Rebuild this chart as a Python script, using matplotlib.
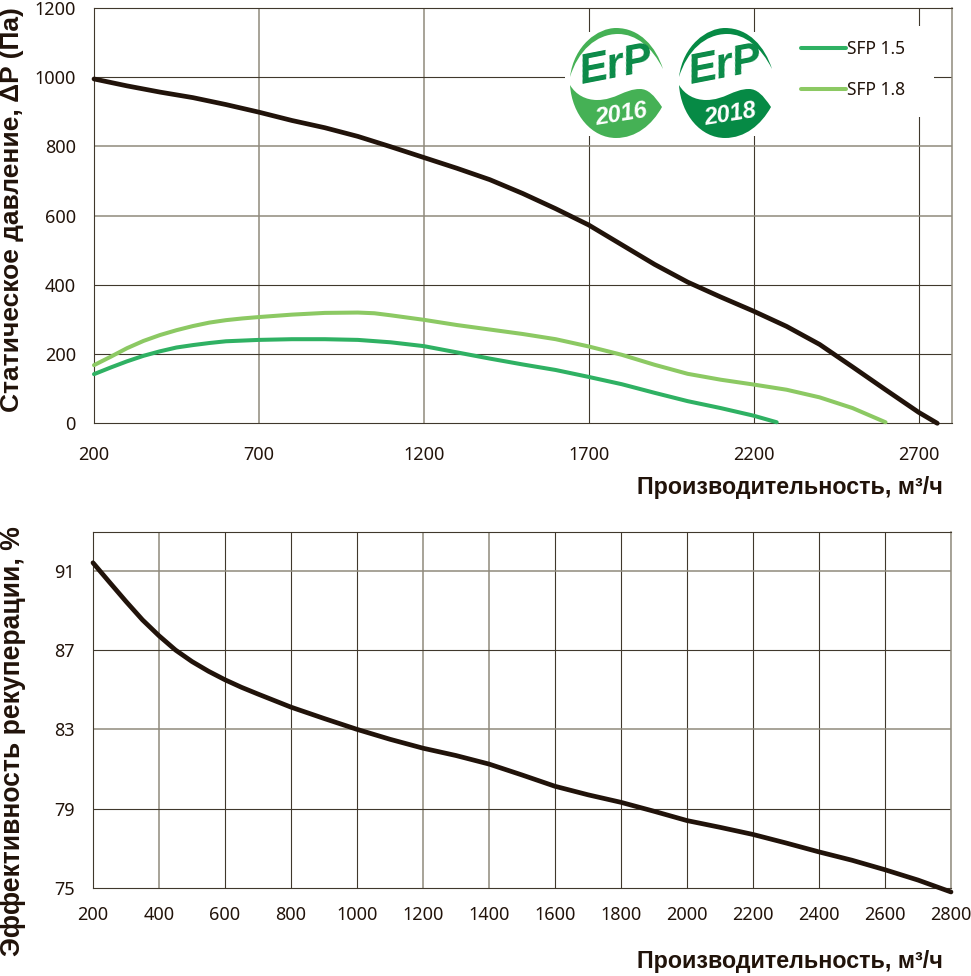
import matplotlib.pyplot as plt
from matplotlib.path import Path
from matplotlib.patches import PathPatch, Rectangle

W, H = 971, 976

# Верхний график: давление
flow_x = [200, 300, 400, 500, 600, 700, 800, 900, 1000, 1100, 1200, 1300, 1400, 1500, 1600,
          1700, 1800, 1900, 2000, 2100, 2200, 2300, 2400, 2500, 2600, 2700, 2757]
pressure = [995, 975, 957, 941, 921, 899, 875, 854, 829, 799, 768, 737, 704, 664, 620,
            573, 516, 459, 408, 365, 324, 280, 228, 163, 97, 32, 0]

sfp15_x = [200, 250, 300, 350, 400, 450, 500, 550, 600, 700, 800, 900, 1000, 1100, 1200, 1300, 1400,
           1500, 1600, 1700, 1800, 1900, 2000, 2100, 2200, 2270]
sfp15 = [142, 161, 179, 195, 208, 219, 226, 232, 237, 241, 243, 243, 241, 234, 223, 205, 187,
         170, 154, 134, 113, 88, 64, 44, 22, 3]

sfp18_x = [200, 250, 300, 350, 400, 450, 500, 550, 600, 650, 700, 800, 900, 1000, 1050, 1100, 1200, 1300, 1400,
           1500, 1600, 1700, 1800, 1900, 2000, 2100, 2200, 2300, 2400, 2500, 2600]
sfp18 = [168, 192, 217, 238, 255, 269, 281, 291, 298, 303, 307, 314, 319, 320, 318, 312, 299, 284, 271,
         258, 243, 222, 198, 169, 143, 126, 112, 97, 75, 44, 3]

# Нижний график: рекуперация
eff_x = [200, 250, 300, 350, 400, 450, 500, 550, 600, 650, 700, 800, 900, 1000, 1100, 1200, 1300, 1400, 1500, 1600,
         1700, 1800, 1900, 2000, 2100, 2200, 2300, 2400, 2500, 2600, 2700, 2800]
eff = [91.4, 90.42, 89.45, 88.52, 87.72, 87.0, 86.42, 85.93, 85.5, 85.12, 84.78, 84.12, 83.55, 83.0, 82.5, 82.05, 81.68, 81.25, 80.7, 80.13,
       79.7, 79.32, 78.87, 78.4, 78.06, 77.7, 77.27, 76.82, 76.4, 75.92, 75.4, 74.8]

top_xticks = [200, 700, 1200, 1700, 2200, 2700]
top_yticks = [0, 200, 400, 600, 800, 1000, 1200]
bot_xticks = [200, 400, 600, 800, 1000, 1200, 1400, 1600, 1800, 2000, 2200, 2400, 2600, 2800]
bot_yticks = [75, 79, 83, 87, 91]

top_ylabel = 'Статическое давление, ΔP (Па)'
bot_ylabel = 'Эффективность рекуперации, %'
xlabel = 'Производительность, м³/ч'

BLACK = '#21130a'
GREEN15 = '#2fb163'
GREEN18 = '#8cc963'
GRID_DARK = '#40382c'
GRID_GRAY = '#8f8a7c'
TICK_FONT = 'Noto Sans'
BOLD_FONT = 'Liberation Sans'


def px_axes(fig, left, top, right, bottom):
    return fig.add_axes([left / W, 1 - bottom / H, (right - left) / W, (bottom - top) / H])


def style(ax, xticks, yticks, gray_x, gray_y, pad):
    ax.set_xticks(xticks)
    ax.set_yticks(yticks)
    ax.tick_params(length=0, labelsize=13, labelcolor=BLACK, pad=pad)
    ax.tick_params(axis='y', pad=13)
    for lab in ax.get_xticklabels() + ax.get_yticklabels():
        lab.set_family(TICK_FONT)
    for s in ax.spines.values():
        s.set_color(GRID_DARK)
        s.set_linewidth(0.8)
    ax.spines['right'].set_color(GRID_GRAY)
    ax.spines['right'].set_linewidth(1.1)
    for x in xticks[1:]:
        gray = x in gray_x
        ax.axvline(x, color=GRID_GRAY if gray else GRID_DARK, lw=1.1 if gray else 0.8, zorder=1)
    for y in yticks[1:]:
        if y == ax.get_ylim()[1]:
            continue
        gray = y in gray_y
        ax.axhline(y, color=GRID_GRAY if gray else GRID_DARK, lw=1.1 if gray else 0.8, zorder=1)


def fit_text(t, target):
    # подгоняем кегль под длину надписи в пикселях
    box = t.get_window_extent(fig.canvas.get_renderer())
    t.set_fontsize(t.get_fontsize() * target / max(box.width, box.height))


def logo(ov, cx, cy, color, year):
    # полумесяц сверху
    top = Path([(-46, -6), (-42, -38), (-18, -55), (0, -55), (24, -55), (40, -36), (47, -14),
                (36, -36), (20, -49), (2, -49), (-20, -49), (-38, -32), (-46, -6), (-46, -6)],
               [Path.MOVETO, Path.CURVE4, Path.CURVE4, Path.CURVE4, Path.CURVE4, Path.CURVE4, Path.CURVE4,
                Path.CURVE4, Path.CURVE4, Path.CURVE4, Path.CURVE4, Path.CURVE4, Path.CURVE4, Path.CLOSEPOLY])
    # лист снизу
    leaf = Path([(-46, 2), (-44, 32), (-24, 55), (0, 55), (20, 55), (36, 42), (46, 24),
                 (38, 12), (32, 6), (24, 6), (8, 6), (0, 17), (-19, 17), (-30, 17), (-40, 12), (-46, 2), (-46, 2)],
                [Path.MOVETO, Path.CURVE4, Path.CURVE4, Path.CURVE4, Path.CURVE4, Path.CURVE4, Path.CURVE4,
                 Path.CURVE4, Path.CURVE4, Path.CURVE4, Path.CURVE4, Path.CURVE4, Path.CURVE4,
                 Path.CURVE4, Path.CURVE4, Path.CURVE4, Path.CLOSEPOLY])
    for p in (top, leaf):
        moved = Path(p.vertices + [cx, cy], p.codes)
        ov.add_patch(PathPatch(moved, facecolor=color, edgecolor='none'))
    ov.text(cx - 1, cy - 17, 'ErP', family=BOLD_FONT, weight='bold', style='italic', size=31,
            color='#0a8a47', rotation=11, ha='center', va='center')
    ov.text(cx + 5, cy + 31, year, family=BOLD_FONT, weight='bold', style='italic', size=17,
            color='white', rotation=9, ha='center', va='center')


fig = plt.figure(figsize=(W / 100, H / 100), dpi=100)

ax1 = px_axes(fig, 94, 8, 951.5, 423.3)
ax1.set_xlim(200, 2800)
ax1.set_ylim(0, 1200)
style(ax1, top_xticks, top_yticks, [700, 1200], [800, 600], 16)
ax1.plot(sfp15_x, sfp15, color=GREEN15, lw=2.9, solid_capstyle='round', zorder=3, clip_on=False, label='SFP 1.5')
ax1.plot(sfp18_x, sfp18, color=GREEN18, lw=2.9, solid_capstyle='round', zorder=3, clip_on=False, label='SFP 1.8')
ax1.plot(flow_x, pressure, color=BLACK, lw=3.4, solid_capstyle='round', zorder=4, clip_on=False)

ax2 = px_axes(fig, 93, 531.7, 951, 888)
ax2.set_xlim(200, 2800)
ax2.set_ylim(75, 75 + (888 - 531.7) / 19.83)
style(ax2, bot_xticks, bot_yticks, [400, 1200, 1400], [91, 83], 13)
ax2.plot(eff_x, eff, color=BLACK, lw=3.4, solid_capstyle='round', zorder=4, clip_on=False)

# прозрачный слой в пикселях: логотипы, легенда, подписи
ov = fig.add_axes([0, 0, 1, 1], facecolor='none')
ov.set_xlim(0, W)
ov.set_ylim(H, 0)
ov.axis('off')
ov.add_patch(Rectangle((565, 32), 205, 104, facecolor='white', edgecolor='none'))
ov.add_patch(Rectangle((770, 26), 164, 91, facecolor='white', edgecolor='none'))
logo(ov, 616, 83, '#45b155', '2016')
logo(ov, 725, 83, '#068a45', '2018')

handles, labels = ax1.get_legend_handles_labels()
ov.legend(handles, labels, loc='upper left', bbox_to_anchor=(801 / W, 1 - 40 / H), frameon=False,
          handlelength=2.6, handletextpad=0.05, labelspacing=1.35, borderpad=0, borderaxespad=0,
          prop={'family': TICK_FONT, 'size': 12.5}, labelcolor=BLACK)

for y in (494, 968):
    t = ov.text(943, y, xlabel, family=BOLD_FONT, weight='bold', size=16, color=BLACK, ha='right', va='baseline')
    fit_text(t, 306)
t = ov.text(12, 210, top_ylabel, family=BOLD_FONT, weight='bold', size=16, color=BLACK, rotation=90,
            ha='center', va='center')
fit_text(t, 404)
t = ov.text(13, 741, bot_ylabel, family=BOLD_FONT, weight='bold', size=16, color=BLACK, rotation=90,
            ha='center', va='center')
fit_text(t, 430)

fig.savefig('out.png', dpi=100)
